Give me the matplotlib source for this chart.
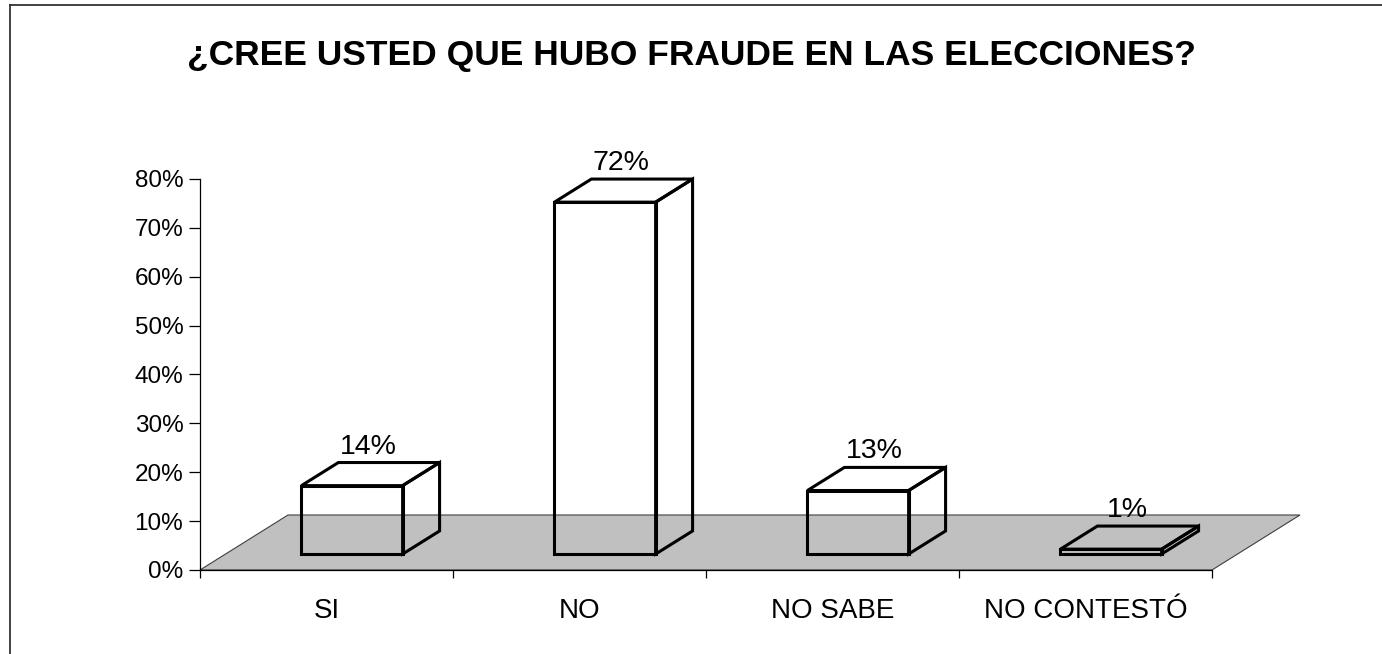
import matplotlib
matplotlib.use('Agg')
import matplotlib.pyplot as plt
from matplotlib.patches import Polygon
from matplotlib.lines import Line2D

# datos
categories = ['SI', 'NO', 'NO SABE', 'NO CONTESTÓ']
values = [14, 72, 13, 1]
value_labels = ['14%', '72%', '13%', '1%']
yticks = [0, 10, 20, 30, 40, 50, 60, 70, 80]
title = '¿CREE USTED QUE HUBO FRAUDE EN LAS ELECCIONES?'

plt.rcParams['font.family'] = ['Liberation Sans', 'DejaVu Sans']

W, H = 1382, 654
fig = plt.figure(figsize=(W / 100, H / 100), dpi=100)
fig.patch.set_facecolor('white')

# marco exterior (solo se ven el borde superior e izquierdo)
fig.add_artist(Line2D([10 / W, 10 / W], [0, 1 - 5 / H], color='#333333', lw=1.3))
fig.add_artist(Line2D([10 / W, 1], [1 - 5 / H, 1 - 5 / H], color='#333333', lw=1.3))

ax = fig.add_axes([200 / W, 1 - 570 / H, 1012 / W, 391 / H])
ax.set_xlim(0, 4)
ax.set_ylim(0, 80)
ax.patch.set_alpha(0)

# profundidad del piso en unidades de datos
px_x = 1012 / 4          # px por categoría
px_y = 391 / 80          # px por punto porcentual
DX = 88 / px_x
DY = 55 / px_y

floor = Polygon([(0, 0), (4, 0), (4 + DX, DY), (DX, DY)], closed=True,
                facecolor='#C0C0C0', edgecolor='#404040', lw=0.8,
                clip_on=False, zorder=1)
ax.add_patch(floor)

d0, d1 = 0.29, 0.71
bw = 0.4
ox, oy = (d1 - d0) * DX, (d1 - d0) * DY
for i, v in enumerate(values):
    x0 = i + 0.5 - bw / 2 + d0 * DX
    x1 = x0 + bw
    y0 = d0 * DY
    y1 = y0 + v
    faces = [
        [(x0, y0), (x1, y0), (x1, y1), (x0, y1)],
        [(x0, y1), (x1, y1), (x1 + ox, y1 + oy), (x0 + ox, y1 + oy)],
        [(x1, y0), (x1 + ox, y0 + oy), (x1 + ox, y1 + oy), (x1, y1)],
    ]
    for f in faces:
        ax.add_patch(Polygon(f, closed=True, fill=False, edgecolor='black',
                             lw=2.2, joinstyle='miter', clip_on=False, zorder=3))
    ax.text(i + 0.5 + 0.5 * DX - 0.01, y1 + oy + 0.6, value_labels[i],
            ha='center', va='bottom', fontsize=20.5, zorder=4, clip_on=False)

for s in ['top', 'right']:
    ax.spines[s].set_visible(False)
ax.spines['left'].set_linewidth(0.9)
ax.spines['bottom'].set_linewidth(0.9)
ax.spines['left'].set_zorder(2)
ax.spines['bottom'].set_zorder(2)

ax.set_yticks(yticks)
ax.set_yticklabels([f'{t}%' for t in yticks], fontsize=17.5)
ax.tick_params(axis='y', direction='out', length=8, width=0.9, pad=4)

ax.set_xticks([0, 1, 2, 3, 4])
ax.set_xticklabels([])
ax.tick_params(axis='x', which='major', direction='out', length=6, width=0.9)
ax.set_xticks([i + 0.5 for i in range(len(categories))], minor=True)
ax.set_xticklabels(categories, minor=True, fontsize=20)
ax.tick_params(axis='x', which='minor', length=0, pad=20)

fig.text(691 / W, 1 - 55 / H, title, ha='center', va='center',
         fontsize=25.5, fontweight='bold')

fig.savefig('out.png', dpi=100)
